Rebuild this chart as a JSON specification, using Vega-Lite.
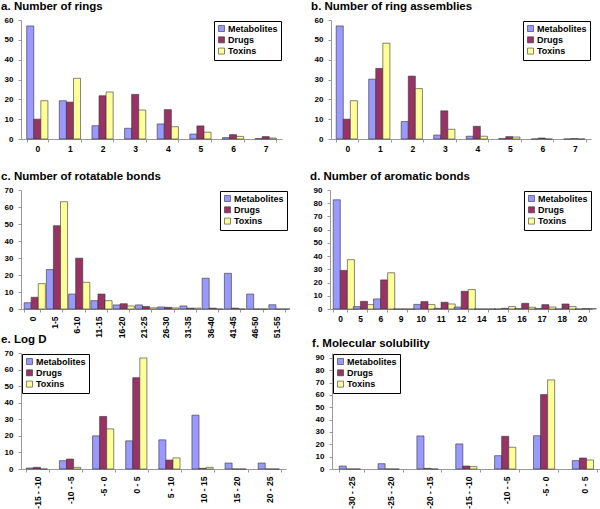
{
  "$schema": "https://vega.github.io/schema/vega-lite/v6.json",
  "background": "white",
  "padding": {"left": 1, "top": 0, "right": 0, "bottom": 0},
  "config": {
    "view": {"stroke": null},
    "font": "Liberation Sans",
    "title": {"anchor": "start", "frame": "bounds", "font": "Liberation Sans", "fontSize": 11.5, "fontWeight": "bold", "color": "black", "offset": 4, "dx": -3},
    "axis": {"labelFont": "Liberation Sans", "labelFontWeight": "bold", "labelColor": "black", "domainColor": "#999999", "tickColor": "#999999", "tickSize": 3, "grid": false, "title": null, "labelPadding": 2},
    "axisX": {"labelFontSize": 8.5, "tickBand": "extent", "labelPadding": 4},
    "axisY": {"labelFontSize": 8, "labelPadding": 5},
    "legend": {"title": null, "offset": 1, "strokeColor": "black", "fillColor": "white", "padding": 3, "symbolType": "square", "symbolSize": 36, "symbolStrokeColor": "#333333", "symbolStrokeWidth": 0.6, "labelFont": "Liberation Sans", "labelFontSize": 9, "labelFontWeight": "bold", "labelColor": "black", "labelOffset": 2, "rowPadding": 1.3},
    "bar": {"stroke": "#333333", "strokeWidth": 0.6}
  },
  "resolve": {"scale": {"color": "independent", "x": "independent", "y": "independent"}, "legend": {"color": "independent"}},
  "spacing": 17,
  "vconcat": [
    {
      "spacing": 29,
      "resolve": {"scale": {"color": "independent", "x": "independent", "y": "independent"}, "legend": {"color": "independent"}},
      "hconcat": [
        {
          "title": "a. Number of rings",
          "width": 261, "height": 119,
          "data": {"values": [
            {"c": "0", "g": "Metabolites", "v": 57}, {"c": "0", "g": "Drugs", "v": 10}, {"c": "0", "g": "Toxins", "v": 19.3},
            {"c": "1", "g": "Metabolites", "v": 19.3}, {"c": "1", "g": "Drugs", "v": 18.6}, {"c": "1", "g": "Toxins", "v": 30.6},
            {"c": "2", "g": "Metabolites", "v": 6.7}, {"c": "2", "g": "Drugs", "v": 21.8}, {"c": "2", "g": "Toxins", "v": 23.7},
            {"c": "3", "g": "Metabolites", "v": 5.4}, {"c": "3", "g": "Drugs", "v": 22.5}, {"c": "3", "g": "Toxins", "v": 14.6},
            {"c": "4", "g": "Metabolites", "v": 7.6}, {"c": "4", "g": "Drugs", "v": 14.8}, {"c": "4", "g": "Toxins", "v": 6.2},
            {"c": "5", "g": "Metabolites", "v": 2.5}, {"c": "5", "g": "Drugs", "v": 6.6}, {"c": "5", "g": "Toxins", "v": 3.4},
            {"c": "6", "g": "Metabolites", "v": 0.7}, {"c": "6", "g": "Drugs", "v": 2.2}, {"c": "6", "g": "Toxins", "v": 1.3},
            {"c": "7", "g": "Metabolites", "v": 0.2}, {"c": "7", "g": "Drugs", "v": 1.2}, {"c": "7", "g": "Toxins", "v": 0.5}
          ]},
          "mark": "bar",
          "encoding": {
            "x": {"field": "c", "type": "nominal", "sort": null, "scale": {"paddingInner": 0.35, "paddingOuter": 0.175}, "axis": {"labelAngle": 0, "labelPadding": 2}},
            "xOffset": {"field": "g", "type": "nominal", "sort": ["Metabolites", "Drugs", "Toxins"]},
            "y": {"field": "v", "type": "quantitative", "scale": {"domain": [0, 60], "nice": false}, "axis": {"values": [0, 10, 20, 30, 40, 50, 60]}},
            "color": {"field": "g", "type": "nominal", "scale": {"domain": ["Metabolites", "Drugs", "Toxins"], "range": ["#9999FF", "#993366", "#FFFF99"]}, "legend": {"orient": "top-right"}}
          }
        },
        {
          "title": "b. Number of ring assemblies",
          "width": 260, "height": 119,
          "data": {"values": [
            {"c": "0", "g": "Metabolites", "v": 57}, {"c": "0", "g": "Drugs", "v": 10}, {"c": "0", "g": "Toxins", "v": 19.3},
            {"c": "1", "g": "Metabolites", "v": 30.2}, {"c": "1", "g": "Drugs", "v": 35.6}, {"c": "1", "g": "Toxins", "v": 48.3},
            {"c": "2", "g": "Metabolites", "v": 8.8}, {"c": "2", "g": "Drugs", "v": 31.7}, {"c": "2", "g": "Toxins", "v": 25.4},
            {"c": "3", "g": "Metabolites", "v": 2.0}, {"c": "3", "g": "Drugs", "v": 14.2}, {"c": "3", "g": "Toxins", "v": 4.9},
            {"c": "4", "g": "Metabolites", "v": 1.4}, {"c": "4", "g": "Drugs", "v": 6.4}, {"c": "4", "g": "Toxins", "v": 1.4},
            {"c": "5", "g": "Metabolites", "v": 0.2}, {"c": "5", "g": "Drugs", "v": 1.2}, {"c": "5", "g": "Toxins", "v": 1.0},
            {"c": "6", "g": "Metabolites", "v": 0}, {"c": "6", "g": "Drugs", "v": 0.5}, {"c": "6", "g": "Toxins", "v": 0},
            {"c": "7", "g": "Metabolites", "v": 0}, {"c": "7", "g": "Drugs", "v": 0.2}, {"c": "7", "g": "Toxins", "v": 0}
          ]},
          "mark": "bar",
          "encoding": {
            "x": {"field": "c", "type": "nominal", "sort": null, "scale": {"paddingInner": 0.32, "paddingOuter": 0.16}, "axis": {"labelAngle": 0, "labelPadding": 2}},
            "xOffset": {"field": "g", "type": "nominal", "sort": ["Metabolites", "Drugs", "Toxins"]},
            "y": {"field": "v", "type": "quantitative", "scale": {"domain": [0, 60], "nice": false}, "axis": {"values": [0, 10, 20, 30, 40, 50, 60]}},
            "color": {"field": "g", "type": "nominal", "scale": {"domain": ["Metabolites", "Drugs", "Toxins"], "range": ["#9999FF", "#993366", "#FFFF99"]}, "legend": {"orient": "top-right"}}
          }
        }
      ]
    },
    {
      "spacing": -5,
      "resolve": {"scale": {"color": "independent", "x": "independent", "y": "independent"}, "legend": {"color": "independent"}},
      "vconcat": [
        {
          "spacing": 19,
          "resolve": {"scale": {"color": "independent", "x": "independent", "y": "independent"}, "legend": {"color": "independent"}},
          "hconcat": [
            {
              "title": "c. Number of rotatable bonds",
              "width": 267, "height": 119,
              "data": {"values": [
                {"c": "0", "g": "Metabolites", "v": 3.7}, {"c": "0", "g": "Drugs", "v": 6.9}, {"c": "0", "g": "Toxins", "v": 14.9},
                {"c": "1-5", "g": "Metabolites", "v": 23.2}, {"c": "1-5", "g": "Drugs", "v": 49}, {"c": "1-5", "g": "Toxins", "v": 63.1},
                {"c": "6-10", "g": "Metabolites", "v": 8.8}, {"c": "6-10", "g": "Drugs", "v": 29.9}, {"c": "6-10", "g": "Toxins", "v": 15.7},
                {"c": "11-15", "g": "Metabolites", "v": 4.9}, {"c": "11-15", "g": "Drugs", "v": 8.8}, {"c": "11-15", "g": "Toxins", "v": 4.9},
                {"c": "16-20", "g": "Metabolites", "v": 2.4}, {"c": "16-20", "g": "Drugs", "v": 3.1}, {"c": "16-20", "g": "Toxins", "v": 1.8},
                {"c": "21-25", "g": "Metabolites", "v": 2.4}, {"c": "21-25", "g": "Drugs", "v": 1.5}, {"c": "21-25", "g": "Toxins", "v": 0.7},
                {"c": "26-30", "g": "Metabolites", "v": 1.2}, {"c": "26-30", "g": "Drugs", "v": 1.0}, {"c": "26-30", "g": "Toxins", "v": 0.6},
                {"c": "31-35", "g": "Metabolites", "v": 1.8}, {"c": "31-35", "g": "Drugs", "v": 0.5}, {"c": "31-35", "g": "Toxins", "v": 0.5},
                {"c": "36-40", "g": "Metabolites", "v": 18.1}, {"c": "36-40", "g": "Drugs", "v": 0.5}, {"c": "36-40", "g": "Toxins", "v": 0},
                {"c": "41-45", "g": "Metabolites", "v": 21}, {"c": "41-45", "g": "Drugs", "v": 0.5}, {"c": "41-45", "g": "Toxins", "v": 0},
                {"c": "46-50", "g": "Metabolites", "v": 8.8}, {"c": "46-50", "g": "Drugs", "v": 0}, {"c": "46-50", "g": "Toxins", "v": 0},
                {"c": "51-55", "g": "Metabolites", "v": 2.5}, {"c": "51-55", "g": "Drugs", "v": 0}, {"c": "51-55", "g": "Toxins", "v": 0}
              ]},
              "mark": "bar",
              "encoding": {
                "x": {"field": "c", "type": "nominal", "sort": null, "scale": {"paddingInner": 0.28, "paddingOuter": 0.14}, "axis": {"labelAngle": 270}},
                "xOffset": {"field": "g", "type": "nominal", "sort": ["Metabolites", "Drugs", "Toxins"]},
                "y": {"field": "v", "type": "quantitative", "scale": {"domain": [0, 70], "nice": false}, "axis": {"values": [0, 10, 20, 30, 40, 50, 60, 70]}},
                "color": {"field": "g", "type": "nominal", "scale": {"domain": ["Metabolites", "Drugs", "Toxins"], "range": ["#9999FF", "#993366", "#FFFF99"]}, "legend": {"orient": "top-right"}}
              }
            },
            {
              "title": "d. Number of aromatic bonds",
              "width": 262, "height": 119,
              "data": {"values": [
                {"c": "0", "g": "Metabolites", "v": 82.6}, {"c": "0", "g": "Drugs", "v": 29.2}, {"c": "0", "g": "Toxins", "v": 37.3},
                {"c": "5", "g": "Metabolites", "v": 1.8}, {"c": "5", "g": "Drugs", "v": 5.8}, {"c": "5", "g": "Toxins", "v": 3.3},
                {"c": "6", "g": "Metabolites", "v": 7.6}, {"c": "6", "g": "Drugs", "v": 22}, {"c": "6", "g": "Toxins", "v": 27.4},
                {"c": "9", "g": "Metabolites", "v": 0}, {"c": "9", "g": "Drugs", "v": 0}, {"c": "9", "g": "Toxins", "v": 0},
                {"c": "10", "g": "Metabolites", "v": 3.5}, {"c": "10", "g": "Drugs", "v": 5.6}, {"c": "10", "g": "Toxins", "v": 3.3},
                {"c": "11", "g": "Metabolites", "v": 0.5}, {"c": "11", "g": "Drugs", "v": 5.1}, {"c": "11", "g": "Toxins", "v": 3.8},
                {"c": "12", "g": "Metabolites", "v": 1.5}, {"c": "12", "g": "Drugs", "v": 13.4}, {"c": "12", "g": "Toxins", "v": 14.7},
                {"c": "14", "g": "Metabolites", "v": 0}, {"c": "14", "g": "Drugs", "v": 0}, {"c": "14", "g": "Toxins", "v": 0},
                {"c": "15", "g": "Metabolites", "v": 0}, {"c": "15", "g": "Drugs", "v": 0.5}, {"c": "15", "g": "Toxins", "v": 1.8},
                {"c": "16", "g": "Metabolites", "v": 0.3}, {"c": "16", "g": "Drugs", "v": 4.3}, {"c": "16", "g": "Toxins", "v": 1.3},
                {"c": "17", "g": "Metabolites", "v": 0.3}, {"c": "17", "g": "Drugs", "v": 3.3}, {"c": "17", "g": "Toxins", "v": 1.5},
                {"c": "18", "g": "Metabolites", "v": 0}, {"c": "18", "g": "Drugs", "v": 3.8}, {"c": "18", "g": "Toxins", "v": 1.8},
                {"c": "20", "g": "Metabolites", "v": 0}, {"c": "20", "g": "Drugs", "v": 0.3}, {"c": "20", "g": "Toxins", "v": 0.3}
              ]},
              "mark": "bar",
              "encoding": {
                "x": {"field": "c", "type": "nominal", "sort": null, "scale": {"paddingInner": 0.32, "paddingOuter": 0.16}, "axis": {"labelAngle": 0, "labelPadding": 2}},
                "xOffset": {"field": "g", "type": "nominal", "sort": ["Metabolites", "Drugs", "Toxins"]},
                "y": {"field": "v", "type": "quantitative", "scale": {"domain": [0, 90], "nice": false}, "axis": {"values": [0, 10, 20, 30, 40, 50, 60, 70, 80, 90]}},
                "color": {"field": "g", "type": "nominal", "scale": {"domain": ["Metabolites", "Drugs", "Toxins"], "range": ["#9999FF", "#993366", "#FFFF99"]}, "legend": {"orient": "top-right"}}
              }
            }
          ]
        },
        {
          "spacing": 26,
          "resolve": {"scale": {"color": "independent", "x": "independent", "y": "independent"}, "legend": {"color": "independent"}},
          "hconcat": [
            {
              "title": "e. Log D",
              "width": 265, "height": 116,
              "data": {"values": [
                {"c": "-15 - -10", "g": "Metabolites", "v": 0.6}, {"c": "-15 - -10", "g": "Drugs", "v": 1}, {"c": "-15 - -10", "g": "Toxins", "v": 0},
                {"c": "-10 - -5", "g": "Metabolites", "v": 5}, {"c": "-10 - -5", "g": "Drugs", "v": 6}, {"c": "-10 - -5", "g": "Toxins", "v": 1},
                {"c": "-5 - 0", "g": "Metabolites", "v": 20}, {"c": "-5 - 0", "g": "Drugs", "v": 31.7}, {"c": "-5 - 0", "g": "Toxins", "v": 24.2},
                {"c": "0 - 5", "g": "Metabolites", "v": 17}, {"c": "0 - 5", "g": "Drugs", "v": 55.1}, {"c": "0 - 5", "g": "Toxins", "v": 67},
                {"c": "5 - 10", "g": "Metabolites", "v": 17.6}, {"c": "5 - 10", "g": "Drugs", "v": 5.4}, {"c": "5 - 10", "g": "Toxins", "v": 6.7},
                {"c": "10 - 15", "g": "Metabolites", "v": 32.5}, {"c": "10 - 15", "g": "Drugs", "v": 0.4}, {"c": "10 - 15", "g": "Toxins", "v": 1},
                {"c": "15 - 20", "g": "Metabolites", "v": 3.6}, {"c": "15 - 20", "g": "Drugs", "v": 0}, {"c": "15 - 20", "g": "Toxins", "v": 0},
                {"c": "20 - 25", "g": "Metabolites", "v": 3.6}, {"c": "20 - 25", "g": "Drugs", "v": 0}, {"c": "20 - 25", "g": "Toxins", "v": 0}
              ]},
              "mark": "bar",
              "encoding": {
                "x": {"field": "c", "type": "nominal", "sort": null, "scale": {"paddingInner": 0.32, "paddingOuter": 0.16}, "axis": {"labelAngle": 270}},
                "xOffset": {"field": "g", "type": "nominal", "sort": ["Metabolites", "Drugs", "Toxins"]},
                "y": {"field": "v", "type": "quantitative", "scale": {"domain": [0, 70], "nice": false}, "axis": {"values": [0, 10, 20, 30, 40, 50, 60, 70]}},
                "color": {"field": "g", "type": "nominal", "scale": {"domain": ["Metabolites", "Drugs", "Toxins"], "range": ["#9999FF", "#993366", "#FFFF99"]}, "legend": {"orient": "top-left"}}
              }
            },
            {
              "title": "f. Molecular solubility",
              "width": 272, "height": 116,
              "data": {"values": [
                {"c": "-30 - -25", "g": "Metabolites", "v": 2.4}, {"c": "-30 - -25", "g": "Drugs", "v": 0}, {"c": "-30 - -25", "g": "Toxins", "v": 0},
                {"c": "-25 - -20", "g": "Metabolites", "v": 4.3}, {"c": "-25 - -20", "g": "Drugs", "v": 0}, {"c": "-25 - -20", "g": "Toxins", "v": 0},
                {"c": "-20 - -15", "g": "Metabolites", "v": 26.8}, {"c": "-20 - -15", "g": "Drugs", "v": 0.5}, {"c": "-20 - -15", "g": "Toxins", "v": 0},
                {"c": "-15 - -10", "g": "Metabolites", "v": 20.3}, {"c": "-15 - -10", "g": "Drugs", "v": 2.4}, {"c": "-15 - -10", "g": "Toxins", "v": 1.9},
                {"c": "-10 - -5", "g": "Metabolites", "v": 10.8}, {"c": "-10 - -5", "g": "Drugs", "v": 26.5}, {"c": "-10 - -5", "g": "Toxins", "v": 17.6},
                {"c": "-5 - 0", "g": "Metabolites", "v": 27}, {"c": "-5 - 0", "g": "Drugs", "v": 60.3}, {"c": "-5 - 0", "g": "Toxins", "v": 72.2},
                {"c": "0 - 5", "g": "Metabolites", "v": 6.8}, {"c": "0 - 5", "g": "Drugs", "v": 8.9}, {"c": "0 - 5", "g": "Toxins", "v": 7.3}
              ]},
              "mark": "bar",
              "encoding": {
                "x": {"field": "c", "type": "nominal", "sort": null, "scale": {"paddingInner": 0.37, "paddingOuter": 0.185}, "axis": {"labelAngle": 270}},
                "xOffset": {"field": "g", "type": "nominal", "sort": ["Metabolites", "Drugs", "Toxins"]},
                "y": {"field": "v", "type": "quantitative", "scale": {"domain": [0, 94], "nice": false}, "axis": {"values": [0, 10, 20, 30, 40, 50, 60, 70, 80, 90]}},
                "color": {"field": "g", "type": "nominal", "scale": {"domain": ["Metabolites", "Drugs", "Toxins"], "range": ["#9999FF", "#993366", "#FFFF99"]}, "legend": {"orient": "top-left"}}
              }
            }
          ]
        }
      ]
    }
  ]
}
